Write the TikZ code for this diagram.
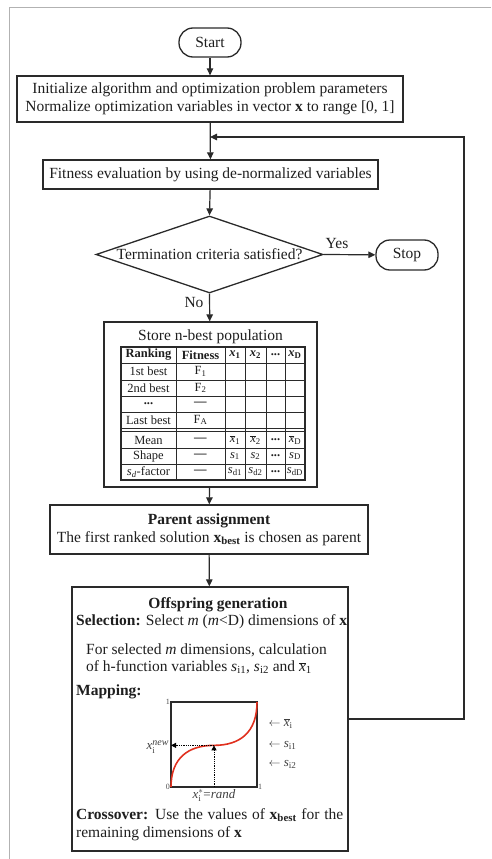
\documentclass[tikz,border=0pt]{standalone}
\usepackage{fontspec}
\setmainfont{Liberation Serif}
\usetikzlibrary{arrows.meta,shapes.geometric}
\definecolor{linec}{HTML}{2A2A2A}
\definecolor{txtc}{HTML}{1E1E1E}
\definecolor{curvec}{HTML}{E0301E}
\newcommand{\xb}[1]{$\overline{\mbox{\textit{x}}}$\textsubscript{#1}}
\begin{document}
\begin{tikzpicture}[x=1pt,y=-1pt,
  every node/.style={text=txtc, font=\fontsize{15.5}{18}\selectfont},
  box/.style={draw=linec, line width=1.3pt, inner sep=0pt},
  term/.style={box, rounded corners=14pt},
  arr/.style={draw=linec, line width=1.2pt, -{Triangle[length=7pt,width=6.5pt]}},
  tab/.style={font=\fontsize{12.5}{14}\selectfont, inner sep=0pt},
  tline/.style={draw=linec, line width=0.9pt},
  small/.style={font=\fontsize{8}{9}\selectfont, text=black!70, inner sep=1pt},
  glab/.style={font=\fontsize{13}{14}\selectfont, text=black!75, inner sep=1pt}]
\useasboundingbox (0,0) rectangle (491,859);
\draw[black!30, line width=0.8pt] (9,859) -- (9,7) -- (491,7);

\node[term, minimum width=62, minimum height=29] (start) at (210,42.5) {Start};
\node[box, minimum width=386, minimum height=46, align=center] (init) at (210,99)
  {Initialize algorithm and optimization problem parameters\\Normalize optimization variables in vector \textbf{x} to range [0, 1]};
\node[box, minimum width=335, minimum height=29] (fit) at (210.5,174.5)
  {Fitness evaluation by using de-normalized variables};
\node[diamond, draw=linec, line width=1.3pt, minimum width=227, minimum height=77, inner sep=0pt] (dec) at (209.5,254.5) {};
\node (dectext) at (dec.center) {Termination criteria satisfied?};
\node[term, minimum width=62, minimum height=30] (stop) at (407,255) {Stop};
\node (yes) at (337,243) {Yes};
\node (no) at (194,302) {No};

\node[box, minimum width=213, minimum height=165] (store) at (210.5,404.5) {};
\node (storet) at (210.5,337) {Store n-best population};

% table
\draw[tline, line width=1.2pt] (121,347) rectangle (305,480);
\foreach \yy in {363,380,396,412,428,431,448,464} \draw[tline] (121,\yy) -- (305,\yy);
\foreach \xx in {176,225,245,266,285} \draw[tline] (\xx,347) -- (\xx,480);
\node[tab] (h1) at (148.5,355) {\textbf{Ranking}};
\node[tab] (h2) at (200.5,355) {\textbf{Fitness}};
\node[tab] (h3) at (235,355) {\textbf{\textit{x}\textsubscript{1}}};
\node[tab] (h4) at (255.5,355) {\textbf{\textit{x}\textsubscript{2}}};
\node[tab] (h5) at (275.5,355) {\textbf{...}};
\node[tab] (h6) at (295,355) {\textbf{\textit{x}\textsubscript{D}}};
\node[tab] (r1a) at (148.5,371.5) {1st best};
\node[tab] (r1b) at (200.5,371.5) {F\textsubscript{1}};
\node[tab] (r2a) at (148.5,388) {2nd best};
\node[tab] (r2b) at (200.5,388) {F\textsubscript{2}};
\node[tab] (r3a) at (148.5,404) {\textbf{...}};
\node[tab] (r3b) at (200.5,404) {\textbf{---}};
\node[tab] (r4a) at (148.5,420) {Last best};
\node[tab] (r4b) at (200.5,420) {F\textsubscript{A}};
\node[tab] (r5a) at (148.5,440) {Mean};
\node[tab] (r5b) at (200.5,440) {\textbf{---}};
\node[tab] (r5c) at (235,440) {\xb{1}};
\node[tab] (r5d) at (255.5,440) {\xb{2}};
\node[tab] (r5e) at (275.5,440) {\textbf{...}};
\node[tab] (r5f) at (295,440) {\xb{D}};
\node[tab] (r6a) at (148.5,456) {Shape};
\node[tab] (r6b) at (200.5,456) {\textbf{---}};
\node[tab] (r6c) at (235,456) {\textit{s}\textsubscript{1}};
\node[tab] (r6d) at (255.5,456) {\textit{s}\textsubscript{2}};
\node[tab] (r6e) at (275.5,456) {\textbf{...}};
\node[tab] (r6f) at (295,456) {\textit{s}\textsubscript{D}};
\node[tab] (r7a) at (148.5,472) {\textit{s}\textsubscript{\textit{d}}-factor};
\node[tab] (r7b) at (200.5,472) {\textbf{---}};
\node[tab] (r7c) at (235,472) {\textit{s}\textsubscript{d1}};
\node[tab] (r7d) at (255.5,472) {\textit{s}\textsubscript{d2}};
\node[tab] (r7e) at (275.5,472) {\textbf{...}};
\node[tab] (r7f) at (295,472) {\textit{s}\textsubscript{dD}};

\node[box, minimum width=318, minimum height=49, align=center] (par) at (209,529.5)
  {\textbf{Parent assignment}\\The first ranked solution \textbf{x}\textsubscript{\textbf{best}} is chosen as parent};

\node[box, minimum width=276, minimum height=264] (off) at (210,719) {};
\node (offt) at (218,605) {\textbf{Offspring generation}};
\node[anchor=west, inner sep=0pt] (sel) at (76,622) {\textbf{Selection:} Select \textit{m} (\textit{m}<D) dimensions of \textbf{x}};
\node[anchor=west, inner sep=0pt] (fs1) at (86,650) {For selected \textit{m} dimensions, calculation};
\node[anchor=west, inner sep=0pt] (fs2) at (86,667) {of h-function variables \textit{s}\textsubscript{i1}, \textit{s}\textsubscript{i2} and \xb{1}};
\node[anchor=west, inner sep=0pt] (map) at (76,692) {\textbf{Mapping:}};
\node[anchor=north west, inner sep=0pt, align=left] (cro) at (76,808)
  {\makebox[267pt][s]{\textbf{Crossover:} Use the values of \textbf{x}\textsubscript{\textbf{best}} for the}\\remaining dimensions of \textbf{x}};

% graph
\begin{scope}[shift={(171,787)}, x=86pt, y=85pt]
  \coordinate (g00) at (0,0);
  \coordinate (g11) at (1,1);
  \coordinate (gb) at (0.5,0);
  \coordinate (gm) at (0.5,0.49);
  \coordinate (gl) at (0,0.49);
  \draw[linec, line width=1.2pt] (g00) rectangle (g11);
  \draw[curvec, line width=1.6pt] (g00) .. controls (0,0.34) and (0.2,0.49) .. (gm) .. controls (0.8,0.49) and (1,0.64) .. (g11);
  \draw[black, line width=0.8pt, densely dotted, -{Triangle[length=5pt,width=5pt]}] (gb) -- (gm);
  \draw[black, line width=0.8pt, densely dotted, -{Triangle[length=5pt,width=5pt]}] (gm) -- (gl);
  \node[small, anchor=east] (l1) at (0,1) {1};
  \node[small, anchor=east] (l0) at (0,0) {0};
  \node[small, anchor=west] (l1b) at (1,0) {1};
  \node[glab, anchor=east, inner sep=0pt] (xnew) at (-0.02,0.47) {\textit{x}$^{\mbox{\fontsize{10}{10}\selectfont\textit{new}}}_{\mbox{\fontsize{9}{9}\selectfont i}}$};
  \node[glab, anchor=north] (xstar) at (0.5,-0.01) {\textit{x}$^{*}_{\mbox{\fontsize{9}{9}\selectfont i}}$=\textit{rand}};
  \node[glab, anchor=west] (lxb) at (1.12,0.75) {$\leftarrow$ \xb{i}};
  \node[glab, anchor=west] (ls1) at (1.12,0.49) {$\leftarrow$ \textit{s}\textsubscript{i1}};
  \node[glab, anchor=west] (ls2) at (1.12,0.27) {$\leftarrow$ \textit{s}\textsubscript{i2}};
\end{scope}

% connectors
\coordinate (fbR) at (464,137);
\coordinate (fb) at (210,137);
\draw[arr] (start) -- (init);
\draw[arr] (init) -- (fit);
\draw[arr] (fit) -- (dec.north);
\draw[arr] (dec.east) -- (stop);
\draw[arr] (dec.south) -- (store);
\draw[arr] (store) -- (par);
\draw[arr] (par) -- (off);
\draw[arr] (off.east) -| (fbR) -- (fb);
\end{tikzpicture}
\end{document}
